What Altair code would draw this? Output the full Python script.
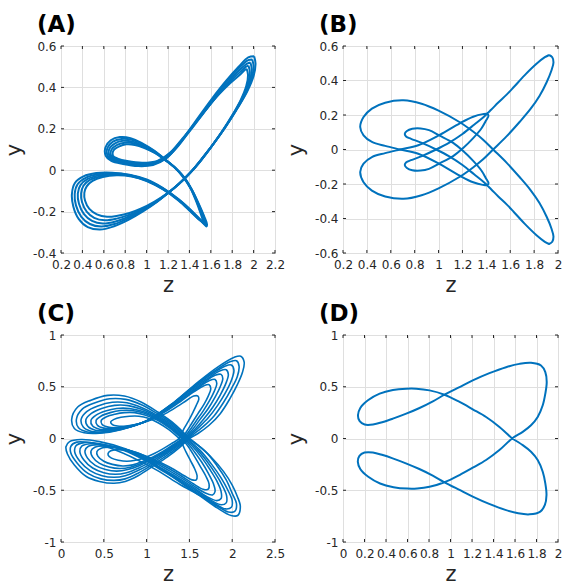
import altair as alt
import pandas as pd

BLUE = "#0072BD"
DARK = "#262626"
FONT = "DejaVu Sans"

# ---------------- tick values ----------------
a_xticks = [0.2, 0.4, 0.6, 0.8, 1, 1.2, 1.4, 1.6, 1.8, 2, 2.2]
a_yticks = [-0.4, -0.2, 0, 0.2, 0.4, 0.6]
b_xticks = [0.2, 0.4, 0.6, 0.8, 1, 1.2, 1.4, 1.6, 1.8, 2]
b_yticks = [-0.6, -0.4, -0.2, 0, 0.2, 0.4, 0.6]
c_xticks = [0, 0.5, 1, 1.5, 2, 2.5]
c_yticks = [-1, -0.5, 0, 0.5, 1]
d_xticks = [0, 0.2, 0.4, 0.6, 0.8, 1, 1.2, 1.4, 1.6, 1.8, 2]
d_yticks = [-1, -0.5, 0, 0.5, 1]

# ---------------- panel A : chaotic band (5 traced loops) ----------------
a0_z = [2.005, 2.018, 2.0, 1.94, 1.85, 1.745, 1.635, 1.525, 1.43, 1.33, 1.22, 1.1, 0.97, 0.83, 0.69, 0.565, 0.45, 0.365, 0.315, 0.302, 0.33, 0.41, 0.53, 0.68, 0.84, 1.0, 1.15, 1.3, 1.43, 1.52, 1.56, 1.565, 1.54, 1.49, 1.43, 1.36, 1.28, 1.18, 1.07, 0.96, 0.85, 0.75, 0.665, 0.615, 0.618, 0.67, 0.78, 0.92, 1.06, 1.18, 1.28, 1.38, 1.49, 1.61, 1.74, 1.86, 1.95, 2.005]
a0_y = [0.55, 0.515, 0.455, 0.38, 0.3, 0.215, 0.135, 0.062, 0.0, -0.052, -0.102, -0.152, -0.198, -0.24, -0.272, -0.287, -0.275, -0.235, -0.175, -0.115, -0.062, -0.03, -0.014, -0.012, -0.022, -0.045, -0.085, -0.14, -0.2, -0.248, -0.272, -0.262, -0.225, -0.165, -0.1, -0.04, 0.005, 0.05, 0.095, 0.13, 0.155, 0.16, 0.145, 0.11, 0.07, 0.045, 0.03, 0.02, 0.025, 0.055, 0.11, 0.18, 0.26, 0.345, 0.43, 0.5, 0.545, 0.55]
a1_z = [1.988, 2.0, 1.982, 1.925, 1.838, 1.735, 1.625, 1.515, 1.42, 1.32, 1.21, 1.09, 0.96, 0.83, 0.7, 0.575, 0.47, 0.39, 0.34, 0.328, 0.355, 0.43, 0.545, 0.69, 0.845, 1.0, 1.15, 1.3, 1.425, 1.51, 1.55, 1.553, 1.53, 1.482, 1.425, 1.355, 1.275, 1.178, 1.072, 0.965, 0.86, 0.765, 0.685, 0.632, 0.634, 0.685, 0.79, 0.93, 1.07, 1.19, 1.3, 1.4, 1.51, 1.63, 1.75, 1.865, 1.95, 1.988]
a1_y = [0.535, 0.5, 0.443, 0.37, 0.29, 0.207, 0.127, 0.055, -0.005, -0.057, -0.107, -0.155, -0.197, -0.232, -0.26, -0.272, -0.26, -0.225, -0.17, -0.115, -0.068, -0.037, -0.02, -0.015, -0.024, -0.047, -0.087, -0.142, -0.2, -0.245, -0.265, -0.255, -0.218, -0.16, -0.097, -0.038, 0.008, 0.05, 0.092, 0.125, 0.147, 0.151, 0.138, 0.106, 0.07, 0.047, 0.033, 0.024, 0.03, 0.062, 0.12, 0.19, 0.268, 0.35, 0.43, 0.495, 0.532, 0.535]
a2_z = [1.97, 1.983, 1.965, 1.91, 1.825, 1.724, 1.615, 1.507, 1.41, 1.31, 1.2, 1.08, 0.95, 0.83, 0.71, 0.59, 0.49, 0.415, 0.368, 0.357, 0.382, 0.45, 0.56, 0.7, 0.85, 1.0, 1.15, 1.3, 1.42, 1.5, 1.54, 1.542, 1.52, 1.475, 1.42, 1.35, 1.27, 1.175, 1.075, 0.97, 0.87, 0.78, 0.705, 0.65, 0.651, 0.7, 0.8, 0.94, 1.08, 1.2, 1.31, 1.42, 1.53, 1.645, 1.76, 1.87, 1.94, 1.97]
a2_y = [0.52, 0.487, 0.432, 0.36, 0.282, 0.2, 0.12, 0.048, -0.01, -0.062, -0.11, -0.156, -0.195, -0.225, -0.248, -0.258, -0.245, -0.212, -0.162, -0.113, -0.072, -0.042, -0.025, -0.018, -0.026, -0.049, -0.089, -0.144, -0.2, -0.242, -0.259, -0.249, -0.212, -0.155, -0.094, -0.036, 0.01, 0.05, 0.088, 0.118, 0.138, 0.142, 0.13, 0.102, 0.07, 0.05, 0.036, 0.028, 0.035, 0.07, 0.13, 0.2, 0.275, 0.352, 0.425, 0.485, 0.515, 0.52]
a3_z = [1.952, 1.965, 1.948, 1.895, 1.812, 1.713, 1.605, 1.5, 1.405, 1.305, 1.195, 1.075, 0.95, 0.835, 0.72, 0.61, 0.51, 0.44, 0.397, 0.388, 0.41, 0.47, 0.575, 0.71, 0.855, 1.0, 1.15, 1.3, 1.415, 1.49, 1.53, 1.532, 1.51, 1.468, 1.415, 1.345, 1.265, 1.172, 1.078, 0.975, 0.88, 0.795, 0.725, 0.67, 0.668, 0.715, 0.81, 0.95, 1.09, 1.21, 1.32, 1.43, 1.54, 1.655, 1.77, 1.875, 1.93, 1.952]
a3_y = [0.505, 0.473, 0.42, 0.35, 0.273, 0.192, 0.113, 0.042, -0.014, -0.065, -0.112, -0.155, -0.19, -0.216, -0.234, -0.242, -0.23, -0.2, -0.155, -0.112, -0.075, -0.047, -0.029, -0.021, -0.028, -0.05, -0.09, -0.145, -0.2, -0.238, -0.253, -0.243, -0.207, -0.15, -0.09, -0.034, 0.012, 0.05, 0.085, 0.112, 0.13, 0.133, 0.122, 0.098, 0.07, 0.053, 0.04, 0.032, 0.04, 0.078, 0.14, 0.21, 0.282, 0.355, 0.423, 0.475, 0.5, 0.505]
a4_z = [1.935, 1.948, 1.932, 1.88, 1.8, 1.702, 1.595, 1.493, 1.4, 1.3, 1.19, 1.07, 0.95, 0.84, 0.73, 0.63, 0.535, 0.465, 0.425, 0.418, 0.44, 0.495, 0.59, 0.72, 0.86, 1.0, 1.15, 1.3, 1.41, 1.48, 1.52, 1.522, 1.5, 1.46, 1.41, 1.34, 1.26, 1.17, 1.08, 0.98, 0.89, 0.81, 0.745, 0.69, 0.685, 0.73, 0.82, 0.96, 1.1, 1.22, 1.33, 1.44, 1.55, 1.665, 1.78, 1.88, 1.92, 1.935]
a4_y = [0.49, 0.46, 0.408, 0.34, 0.265, 0.185, 0.107, 0.037, -0.018, -0.068, -0.113, -0.153, -0.185, -0.207, -0.22, -0.225, -0.213, -0.187, -0.148, -0.11, -0.078, -0.052, -0.033, -0.024, -0.03, -0.052, -0.092, -0.147, -0.2, -0.234, -0.247, -0.237, -0.202, -0.146, -0.087, -0.032, 0.014, 0.05, 0.082, 0.107, 0.122, 0.125, 0.115, 0.095, 0.07, 0.056, 0.044, 0.036, 0.045, 0.085, 0.15, 0.22, 0.29, 0.36, 0.42, 0.465, 0.485, 0.49]

# ---------------- panel B : period-2 orbit ----------------
b1_z = [1.925, 1.952, 1.962, 1.945, 1.905, 1.845, 1.77, 1.68, 1.569, 1.457, 1.373, 1.289, 1.178, 1.0, 0.858, 0.706, 0.553, 0.442, 0.372, 0.344, 0.372, 0.442, 0.553, 0.678, 0.83, 1.01, 1.178, 1.29, 1.37, 1.408, 1.418, 1.395, 1.36, 1.29, 1.206, 1.122, 1.01, 0.92, 0.85, 0.78, 0.735, 0.717, 0.73, 0.77, 0.86, 0.98, 1.09, 1.2, 1.3, 1.38, 1.44, 1.5, 1.57, 1.63, 1.72, 1.82, 1.89, 1.925]
b1_y = [0.548, 0.535, 0.505, 0.458, 0.39, 0.31, 0.235, 0.161, 0.076, 0.0, -0.057, -0.104, -0.158, -0.225, -0.265, -0.286, -0.272, -0.238, -0.19, -0.13, -0.082, -0.044, -0.021, 0.0, 0.025, 0.085, 0.152, 0.19, 0.205, 0.207, 0.195, 0.165, 0.123, 0.066, 0.009, -0.038, -0.08, -0.112, -0.122, -0.12, -0.107, -0.09, -0.074, -0.062, -0.038, 0.0, 0.04, 0.09, 0.145, 0.19, 0.23, 0.272, 0.318, 0.362, 0.43, 0.497, 0.535, 0.548]
b2_z = [1.925, 1.952, 1.962, 1.945, 1.905, 1.845, 1.77, 1.68, 1.569, 1.457, 1.373, 1.289, 1.178, 1.0, 0.858, 0.706, 0.553, 0.442, 0.372, 0.344, 0.372, 0.442, 0.553, 0.678, 0.83, 1.01, 1.178, 1.29, 1.37, 1.408, 1.418, 1.395, 1.36, 1.29, 1.206, 1.122, 1.01, 0.92, 0.85, 0.78, 0.735, 0.717, 0.73, 0.77, 0.86, 0.98, 1.09, 1.2, 1.3, 1.38, 1.44, 1.5, 1.57, 1.63, 1.72, 1.82, 1.89, 1.925]
b2_y = [-0.548, -0.535, -0.505, -0.458, -0.39, -0.31, -0.235, -0.161, -0.076, 0.0, 0.057, 0.104, 0.158, 0.225, 0.265, 0.285, 0.271, 0.237, 0.188, 0.13, 0.082, 0.044, 0.021, 0.0, -0.025, -0.085, -0.152, -0.19, -0.205, -0.207, -0.195, -0.165, -0.123, -0.066, -0.009, 0.038, 0.08, 0.112, 0.122, 0.12, 0.107, 0.09, 0.074, 0.062, 0.038, 0.0, -0.04, -0.09, -0.145, -0.19, -0.23, -0.272, -0.318, -0.362, -0.43, -0.497, -0.535, -0.548]

# ---------------- panel C : chaotic double scroll (8 traced loops) ----------------
c0_z = [1.5, 1.32, 1.13, 0.935, 0.74, 0.545, 0.35, 0.195, 0.125, 0.156, 0.27, 0.45, 0.7, 1.01, 1.32, 1.6, 1.83, 2.025, 2.1, 2.14, 2.12, 2.06, 1.97, 1.86, 1.73, 1.6, 1.5, 1.38, 1.24, 1.09, 0.9, 0.75, 0.62, 0.45, 0.3, 0.156, 0.075, 0.058, 0.1, 0.234, 0.45, 0.75, 1.05, 1.246, 1.44, 1.636, 1.83, 1.986, 2.064, 2.095, 2.06, 2.0, 1.9, 1.75, 1.6, 1.5]
c0_y = [0.0, 0.144, 0.256, 0.353, 0.41, 0.417, 0.37, 0.304, 0.186, 0.096, 0.055, 0.05, 0.085, 0.175, 0.35, 0.545, 0.69, 0.785, 0.795, 0.737, 0.64, 0.52, 0.38, 0.24, 0.128, 0.048, 0.0, -0.09, -0.18, -0.26, -0.36, -0.415, -0.433, -0.415, -0.37, -0.256, -0.15, -0.08, -0.03, -0.01, -0.03, -0.1, -0.224, -0.337, -0.449, -0.561, -0.673, -0.744, -0.744, -0.657, -0.56, -0.45, -0.32, -0.176, -0.064, 0.0]
c01_z = [1.485, 1.31, 1.125, 0.94, 0.755, 0.57, 0.39, 0.245, 0.18, 0.205, 0.31, 0.48, 0.71, 1.0, 1.3, 1.56, 1.79, 1.98, 2.05, 2.08, 2.06, 1.99, 1.9, 1.79, 1.66, 1.485, 1.365, 1.225, 1.075, 0.9, 0.75, 0.62, 0.465, 0.32, 0.19, 0.115, 0.115, 0.185, 0.34, 0.6, 0.9, 1.15, 1.38, 1.62, 1.82, 1.955, 2.03, 2.05, 2.0, 1.93, 1.82, 1.68, 1.485]
c01_y = [0.0, 0.137, 0.24, 0.327, 0.378, 0.384, 0.343, 0.282, 0.186, 0.103, 0.062, 0.057, 0.09, 0.172, 0.335, 0.512, 0.65, 0.743, 0.752, 0.7, 0.6, 0.48, 0.35, 0.22, 0.114, 0.0, -0.085, -0.17, -0.25, -0.335, -0.39, -0.405, -0.39, -0.34, -0.238, -0.14, -0.075, -0.035, -0.04, -0.1, -0.21, -0.32, -0.44, -0.55, -0.65, -0.71, -0.705, -0.63, -0.53, -0.4, -0.26, -0.12, 0.0]
c1_z = [1.47, 1.3, 1.12, 0.94, 0.77, 0.6, 0.43, 0.3, 0.235, 0.26, 0.35, 0.5, 0.72, 1.0, 1.28, 1.52, 1.74, 1.92, 1.99, 2.02, 1.99, 1.92, 1.83, 1.72, 1.6, 1.47, 1.35, 1.21, 1.06, 0.9, 0.75, 0.62, 0.48, 0.34, 0.22, 0.16, 0.175, 0.27, 0.45, 0.72, 0.98, 1.2, 1.42, 1.62, 1.8, 1.92, 1.99, 2.0, 1.95, 1.87, 1.76, 1.62, 1.47]
c1_y = [0.0, 0.13, 0.225, 0.3, 0.345, 0.35, 0.315, 0.26, 0.185, 0.11, 0.07, 0.065, 0.095, 0.17, 0.32, 0.48, 0.61, 0.7, 0.71, 0.66, 0.56, 0.44, 0.32, 0.2, 0.1, 0.0, -0.08, -0.16, -0.24, -0.31, -0.36, -0.375, -0.36, -0.31, -0.22, -0.13, -0.07, -0.04, -0.05, -0.11, -0.21, -0.32, -0.43, -0.54, -0.63, -0.68, -0.665, -0.6, -0.5, -0.38, -0.25, -0.11, 0.0]
c12_z = [1.455, 1.29, 1.12, 0.95, 0.785, 0.625, 0.475, 0.355, 0.29, 0.315, 0.4, 0.54, 0.745, 1.0, 1.26, 1.49, 1.695, 1.86, 1.93, 1.955, 1.925, 1.86, 1.775, 1.67, 1.565, 1.455, 1.34, 1.205, 1.06, 0.91, 0.765, 0.635, 0.5, 0.37, 0.265, 0.22, 0.245, 0.35, 0.525, 0.76, 0.99, 1.2, 1.405, 1.59, 1.75, 1.87, 1.93, 1.935, 1.885, 1.805, 1.7, 1.58, 1.455]
c12_y = [0.0, 0.122, 0.212, 0.28, 0.318, 0.32, 0.29, 0.242, 0.18, 0.115, 0.08, 0.075, 0.102, 0.17, 0.305, 0.45, 0.57, 0.655, 0.665, 0.62, 0.53, 0.42, 0.305, 0.19, 0.09, 0.0, -0.075, -0.15, -0.22, -0.285, -0.33, -0.345, -0.33, -0.285, -0.205, -0.125, -0.072, -0.05, -0.062, -0.115, -0.205, -0.31, -0.41, -0.51, -0.595, -0.64, -0.622, -0.555, -0.455, -0.34, -0.215, -0.095, 0.0]
c2_z = [1.44, 1.28, 1.12, 0.96, 0.8, 0.65, 0.52, 0.41, 0.35, 0.37, 0.45, 0.58, 0.77, 1.0, 1.24, 1.46, 1.65, 1.8, 1.87, 1.89, 1.86, 1.8, 1.72, 1.62, 1.53, 1.44, 1.33, 1.2, 1.06, 0.92, 0.78, 0.65, 0.52, 0.4, 0.31, 0.28, 0.32, 0.43, 0.6, 0.8, 1.0, 1.2, 1.39, 1.56, 1.7, 1.82, 1.87, 1.87, 1.82, 1.74, 1.64, 1.54, 1.44]
c2_y = [0.0, 0.115, 0.2, 0.26, 0.29, 0.29, 0.265, 0.225, 0.175, 0.12, 0.09, 0.085, 0.11, 0.17, 0.29, 0.42, 0.53, 0.61, 0.62, 0.58, 0.5, 0.4, 0.29, 0.18, 0.08, 0.0, -0.07, -0.14, -0.2, -0.26, -0.3, -0.315, -0.3, -0.26, -0.19, -0.12, -0.075, -0.06, -0.075, -0.12, -0.2, -0.3, -0.39, -0.48, -0.56, -0.6, -0.58, -0.51, -0.41, -0.3, -0.18, -0.08, 0.0]
c23_z = [1.425, 1.275, 1.125, 0.975, 0.83, 0.695, 0.575, 0.47, 0.41, 0.425, 0.5, 0.62, 0.795, 1.01, 1.23, 1.43, 1.6, 1.735, 1.8, 1.82, 1.79, 1.735, 1.66, 1.575, 1.5, 1.425, 1.32, 1.2, 1.07, 0.94, 0.81, 0.685, 0.56, 0.45, 0.37, 0.35, 0.395, 0.5, 0.66, 0.85, 1.04, 1.23, 1.405, 1.555, 1.68, 1.77, 1.8, 1.78, 1.72, 1.645, 1.56, 1.49, 1.425]
c23_y = [0.0, 0.108, 0.188, 0.243, 0.27, 0.27, 0.25, 0.218, 0.175, 0.128, 0.1, 0.095, 0.118, 0.172, 0.275, 0.39, 0.49, 0.56, 0.57, 0.53, 0.455, 0.365, 0.265, 0.165, 0.075, 0.0, -0.065, -0.13, -0.188, -0.24, -0.278, -0.29, -0.275, -0.24, -0.18, -0.122, -0.085, -0.072, -0.088, -0.13, -0.205, -0.295, -0.38, -0.46, -0.525, -0.545, -0.51, -0.435, -0.335, -0.23, -0.13, -0.055, 0.0]
c3_z = [1.41, 1.27, 1.13, 0.99, 0.86, 0.74, 0.63, 0.53, 0.47, 0.48, 0.55, 0.66, 0.82, 1.02, 1.22, 1.4, 1.55, 1.67, 1.73, 1.75, 1.72, 1.67, 1.6, 1.53, 1.47, 1.41, 1.31, 1.2, 1.08, 0.96, 0.84, 0.72, 0.6, 0.5, 0.43, 0.42, 0.47, 0.57, 0.72, 0.9, 1.08, 1.26, 1.42, 1.55, 1.66, 1.72, 1.73, 1.69, 1.62, 1.55, 1.48, 1.41]
c3_y = [0.0, 0.1, 0.175, 0.225, 0.25, 0.25, 0.235, 0.21, 0.175, 0.135, 0.11, 0.105, 0.125, 0.175, 0.26, 0.36, 0.45, 0.51, 0.52, 0.48, 0.41, 0.33, 0.24, 0.15, 0.07, 0.0, -0.06, -0.12, -0.175, -0.22, -0.255, -0.265, -0.25, -0.22, -0.17, -0.125, -0.095, -0.085, -0.1, -0.14, -0.21, -0.29, -0.37, -0.44, -0.49, -0.49, -0.44, -0.36, -0.26, -0.16, -0.07, 0.0]
c4_z = [1.38, 1.26, 1.14, 1.02, 0.91, 0.8, 0.7, 0.62, 0.58, 0.6, 0.66, 0.76, 0.9, 1.06, 1.22, 1.36, 1.47, 1.55, 1.6, 1.61, 1.58, 1.54, 1.49, 1.44, 1.41, 1.38, 1.29, 1.19, 1.09, 0.98, 0.87, 0.77, 0.67, 0.59, 0.55, 0.56, 0.62, 0.72, 0.86, 1.02, 1.18, 1.32, 1.44, 1.53, 1.58, 1.59, 1.56, 1.51, 1.46, 1.42, 1.38]
c4_y = [0.0, 0.085, 0.15, 0.195, 0.215, 0.215, 0.205, 0.185, 0.16, 0.135, 0.12, 0.12, 0.14, 0.18, 0.24, 0.31, 0.37, 0.41, 0.41, 0.38, 0.32, 0.25, 0.17, 0.1, 0.05, 0.0, -0.05, -0.1, -0.145, -0.185, -0.21, -0.22, -0.21, -0.19, -0.16, -0.13, -0.11, -0.11, -0.13, -0.18, -0.24, -0.3, -0.36, -0.4, -0.4, -0.36, -0.29, -0.21, -0.13, -0.06, 0.0]

# ---------------- panel D : period-1 orbit ----------------
d_z = [1.573, 1.455, 1.331, 1.207, 1.084, 0.944, 0.805, 0.681, 0.588, 0.464, 0.341, 0.232, 0.161, 0.139, 0.155, 0.201, 0.279, 0.372, 0.464, 0.588, 0.712, 0.836, 0.944, 1.084, 1.207, 1.362, 1.517, 1.641, 1.749, 1.842, 1.882, 1.895, 1.882, 1.858, 1.811, 1.749, 1.672, 1.573, 1.455, 1.331, 1.207, 1.084, 0.944, 0.805, 0.69, 0.6, 0.47, 0.345, 0.235, 0.162, 0.138, 0.153, 0.2, 0.278, 0.37, 0.462, 0.585, 0.71, 0.835, 0.944, 1.084, 1.207, 1.36, 1.51, 1.63, 1.735, 1.835, 1.878, 1.893, 1.882, 1.858, 1.811, 1.749, 1.672, 1.573]
d_y = [0.0, 0.112, 0.208, 0.282, 0.353, 0.423, 0.465, 0.481, 0.481, 0.468, 0.433, 0.369, 0.295, 0.224, 0.167, 0.135, 0.135, 0.16, 0.192, 0.24, 0.295, 0.359, 0.423, 0.497, 0.561, 0.631, 0.689, 0.721, 0.731, 0.705, 0.641, 0.545, 0.433, 0.321, 0.208, 0.128, 0.064, 0.0, -0.112, -0.208, -0.282, -0.353, -0.423, -0.467, -0.483, -0.484, -0.47, -0.435, -0.37, -0.297, -0.226, -0.168, -0.136, -0.135, -0.16, -0.192, -0.24, -0.295, -0.359, -0.423, -0.497, -0.561, -0.632, -0.69, -0.723, -0.733, -0.706, -0.642, -0.545, -0.433, -0.321, -0.208, -0.128, -0.064, 0.0]


def frame(loops):
    rows = []
    for k, (zs, ys) in enumerate(loops):
        for i, (zv, yv) in enumerate(zip(zs, ys)):
            rows.append({"z": zv, "y": yv, "loop": k, "i": i})
    return pd.DataFrame(rows)


def panel(loops, xdom, ydom, xt, yt, label, sw, w, h):
    xs = alt.Scale(domain=xdom, nice=False, zero=False)
    ys = alt.Scale(domain=ydom, nice=False, zero=False)
    xax = alt.Axis(values=xt, title="z", labelExpr="datum.value + ''")
    yax = alt.Axis(values=yt, title="y", labelExpr="datum.value + ''")
    line = alt.Chart(frame(loops)).mark_line(
        color=BLUE, strokeWidth=sw, interpolate="catmull-rom", clip=True
    ).encode(
        x=alt.X("z:Q", scale=xs, axis=xax),
        y=alt.Y("y:Q", scale=ys, axis=yax),
        detail="loop:N",
        order="i:Q",
    )
    xtd = pd.DataFrame({"z": xt})
    ytd = pd.DataFrame({"y": yt})
    top = alt.Chart(xtd).mark_rule(color=DARK).encode(
        x=alt.X("z:Q", scale=xs, axis=xax), y=alt.value(0), y2=alt.value(3))
    bot = alt.Chart(xtd).mark_rule(color=DARK).encode(
        x=alt.X("z:Q", scale=xs, axis=xax), y=alt.value(h), y2=alt.value(h - 3))
    left = alt.Chart(ytd).mark_rule(color=DARK).encode(
        y=alt.Y("y:Q", scale=ys, axis=yax), x=alt.value(0), x2=alt.value(3))
    right = alt.Chart(ytd).mark_rule(color=DARK).encode(
        y=alt.Y("y:Q", scale=ys, axis=yax), x=alt.value(w), x2=alt.value(w - 3))
    return alt.layer(line, top, bot, left, right).properties(
        width=w, height=h,
        title=alt.TitleParams(label, anchor="start", frame="group", dx=-24,
                              fontSize=23, fontWeight="bold", font=FONT,
                              color="black", offset=3),
    )


pa = panel([(a0_z, a0_y), (a1_z, a1_y), (a2_z, a2_y), (a3_z, a3_y), (a4_z, a4_y)],
           [0.2, 2.2], [-0.4, 0.6], a_xticks, a_yticks, "(A)", 2.0, 214, 207)
pb = panel([(b1_z, b1_y), (b2_z, b2_y)],
           [0.2, 2.0], [-0.6, 0.6], b_xticks, b_yticks, "(B)", 2, 215, 207)
pc = panel([(c0_z, c0_y), (c01_z, c01_y), (c1_z, c1_y), (c12_z, c12_y),
            (c2_z, c2_y), (c23_z, c23_y), (c3_z, c3_y), (c4_z, c4_y)],
           [0, 2.5], [-1, 1], c_xticks, c_yticks, "(C)", 1.6, 214, 207)
pd_ = panel([(d_z, d_y)],
            [0, 2], [-1, 1], d_xticks, d_yticks, "(D)", 2, 215, 207)

chart = alt.concat(
    pa, pb, pc, pd_, columns=2,
    spacing=alt.RowColnumber(row=82, column=68), bounds="flush",
).properties(
    padding={"left": 3, "top": 13, "right": 0, "bottom": 0},
    background="white",
).configure_view(
    stroke=DARK, strokeWidth=1
).configure_axis(
    labelFont=FONT, labelFontSize=12, labelColor=DARK,
    titleFont=FONT, titleFontSize=21, titleFontWeight="normal", titleColor=DARK,
    gridColor="#dfdfdf", gridWidth=1, domain=False, ticks=False,
    labelFlush=False, labelOverlap=False,
).configure_axisX(
    labelPadding=6, titlePadding=4
).configure_axisY(
    labelPadding=5, titlePadding=8
)

chart.save("out.html", embed_options={"renderer": "svg", "actions": False})
